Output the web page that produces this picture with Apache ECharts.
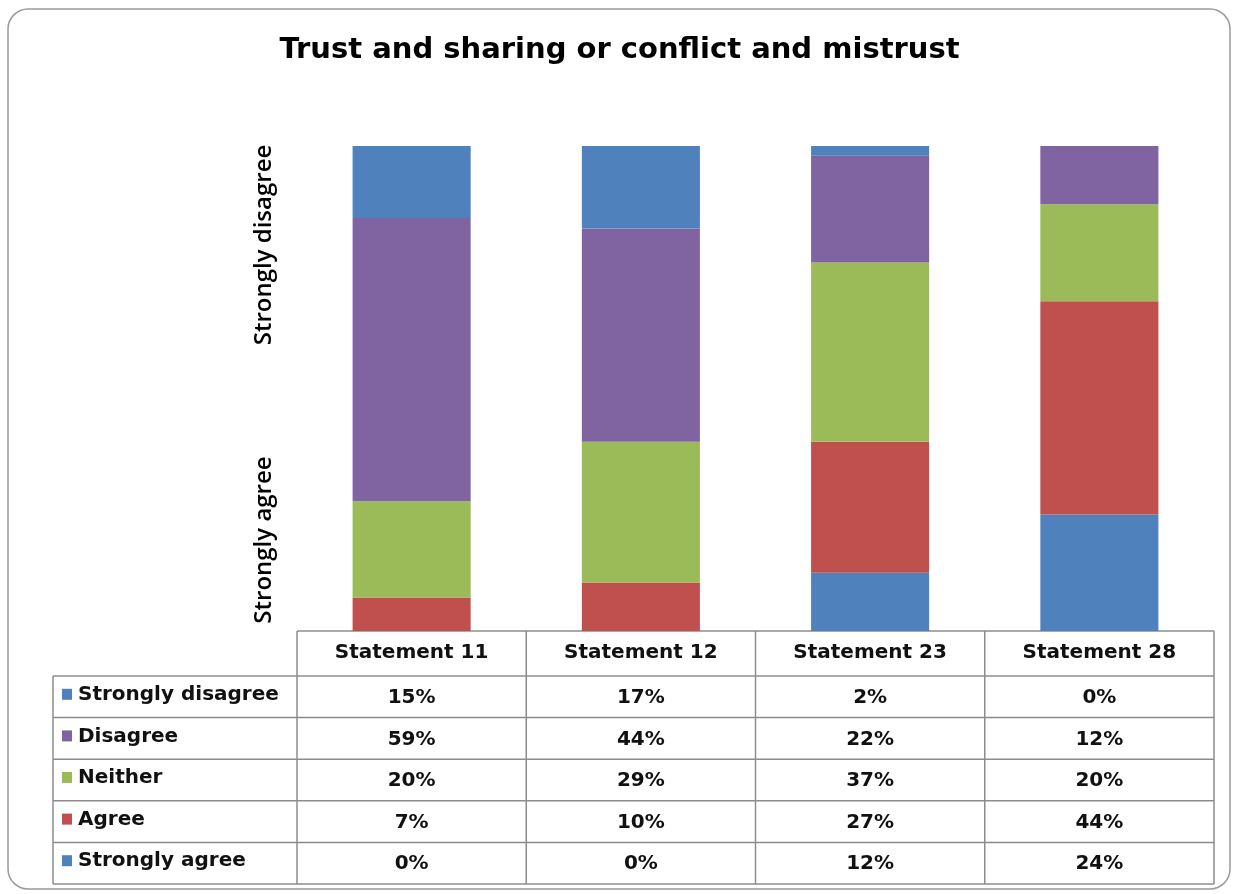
<!DOCTYPE html>
<html>
<head>
<meta charset="utf-8">
<script src="https://cdn.jsdelivr.net/npm/echarts@6/dist/echarts.min.js"></script>
<style>
  html, body { margin: 0; padding: 0; background: #ffffff; }
  #chart { width: 1239px; height: 894px; }
</style>
</head>
<body>
<div id="chart"></div>
<script>
// Survey statements and response shares (percent)
const statements = ['Statement 11', 'Statement 12', 'Statement 23', 'Statement 28'];
const stronglyDisagree = [15, 17, 2, 0];
const disagree = [59, 44, 22, 12];
const neither = [20, 29, 37, 20];
const agree = [7, 10, 27, 44];
const stronglyAgree = [0, 0, 12, 24];

const titleText = 'Trust and sharing or conflict and mistrust';
const axisTopLabel = 'Strongly disagree';
const axisBottomLabel = 'Strongly agree';

// Stack order from bottom to top
const responses = [
  { name: 'Strongly agree', values: stronglyAgree, color: '#4F81BD' },
  { name: 'Agree', values: agree, color: '#C0504D' },
  { name: 'Neither', values: neither, color: '#9BBB59' },
  { name: 'Disagree', values: disagree, color: '#8064A2' },
  { name: 'Strongly disagree', values: stronglyDisagree, color: '#4F81BD' }
];

// Each column is shown as a share of its own total (100% stacked)
const totals = statements.map((_, i) => responses.reduce((s, r) => s + r.values[i], 0));

const W = 1239, H = 894;
const grid = { left: 297, right: 25, top: 146, bottom: H - 631 };
const plotRight = W - grid.right;
const colW = (plotRight - grid.left) / statements.length;
const headerBottom = 676;
const tableBottom = 884;
const labelLeft = 53;
const rowH = (tableBottom - headerBottom) / responses.length;

const tableFont = 'DejaVu Sans, Verdana, sans-serif';
const tableSize = 20;
const lineColor = '#8c8c8c';

const graphics = [];

// Rounded outer frame
graphics.push({
  type: 'rect', silent: true, z: -10,
  shape: { x: 8, y: 9, width: 1222, height: 880, r: 20 },
  style: { fill: '#ffffff', stroke: '#9a9a9a', lineWidth: 1.5 }
});

// Rotated descriptive labels beside the bars
graphics.push({
  type: 'text', x: 264, y: 245, rotation: Math.PI / 2,
  style: { text: axisTopLabel, font: '600 24px "Open Sans", sans-serif', fill: '#000', align: 'center', verticalAlign: 'middle' }
});
graphics.push({
  type: 'text', x: 264, y: 540, rotation: Math.PI / 2,
  style: { text: axisBottomLabel, font: '600 24px "Open Sans", sans-serif', fill: '#000', align: 'center', verticalAlign: 'middle' }
});

function hLine(x1, x2, y) {
  graphics.push({ type: 'line', silent: true, shape: { x1, y1: y, x2, y2: y }, style: { stroke: lineColor, lineWidth: 1.5 } });
}
function vLine(x, y1, y2) {
  graphics.push({ type: 'line', silent: true, shape: { x1: x, y1, x2: x, y2 }, style: { stroke: lineColor, lineWidth: 1.5 } });
}

// Data table grid lines
hLine(grid.left, plotRight, 631);
for (let r = 0; r <= responses.length; r++) {
  hLine(labelLeft, plotRight, headerBottom + r * rowH);
}
vLine(labelLeft, headerBottom, tableBottom);
for (let c = 0; c <= statements.length; c++) {
  vLine(grid.left + c * colW, 631, tableBottom);
}

// Table rows: top row is the top of the stack
const rows = responses.slice().reverse();
rows.forEach((r, ri) => {
  const cy = headerBottom + ri * rowH + rowH / 2;
  graphics.push({
    type: 'rect', silent: true,
    shape: { x: 62, y: cy - 8, width: 10, height: 11 },
    style: { fill: r.color }
  });
  graphics.push({
    type: 'text', x: 78, y: cy - 2,
    style: { text: r.name, font: 'bold ' + tableSize + 'px ' + tableFont, fill: '#111', align: 'left', verticalAlign: 'middle' }
  });
  r.values.forEach((v, ci) => {
    graphics.push({
      type: 'text', x: grid.left + ci * colW + colW / 2, y: cy + 1,
      style: { text: v + '%', font: 'bold ' + tableSize + 'px ' + tableFont, fill: '#111', align: 'center', verticalAlign: 'middle' }
    });
  });
});

const chart = echarts.init(document.getElementById('chart'));
chart.setOption({
  animation: false,
  backgroundColor: '#ffffff',
  title: {
    text: titleText,
    left: 'center',
    top: 31,
    textStyle: { fontFamily: 'DejaVu Sans, Verdana, sans-serif', fontWeight: 'bold', fontSize: 29, color: '#000' }
  },
  grid: { left: grid.left, right: grid.right, top: grid.top, bottom: grid.bottom },
  xAxis: {
    type: 'category',
    data: statements,
    axisLine: { show: false },
    axisTick: { show: false },
    axisLabel: { margin: 12, fontFamily: tableFont, fontWeight: 'bold', fontSize: tableSize, color: '#111' }
  },
  yAxis: {
    type: 'value', min: 0, max: 100,
    show: false,
    splitLine: { show: false }
  },
  series: responses.map(r => ({
    name: r.name,
    type: 'bar',
    stack: 'share',
    barWidth: '51.5%',
    itemStyle: { color: r.color },
    data: r.values.map((v, i) => v / totals[i] * 100)
  })),
  graphic: graphics
});
</script>
</body>
</html>
